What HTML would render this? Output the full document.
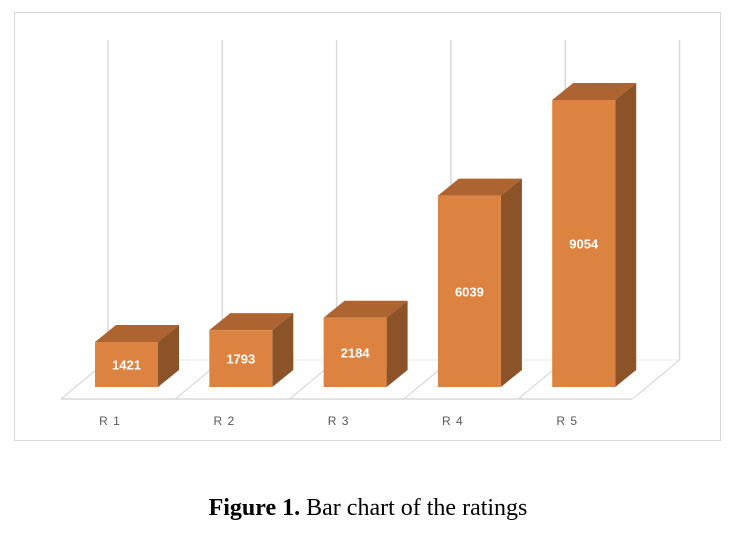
<!DOCTYPE html>
<html><head><meta charset="utf-8"><style>
body{margin:0;background:#fff;width:738px;height:534px;overflow:hidden}
</style></head><body>
<svg width="738" height="534" id="svg" font-family="Liberation Sans, sans-serif">
<rect x="14.5" y="12.5" width="706" height="428" fill="#fff" stroke="#d9d9d9"/>
<g id="g"></g>
<text x="368" y="515" text-anchor="middle" font-family="Liberation Serif, serif" font-size="24" fill="#000"><tspan font-weight="bold">Figure 1.</tspan> Bar chart of the ratings</text>
</svg>
<script>
const categories=["R1","R2","R3","R4","R5"];
const values=[1421,1793,2184,6039,9054];
const labels=["R 1","R 2","R 3","R 4","R 5"];
const NS="http://www.w3.org/2000/svg",g=document.getElementById('g');
function mk(t,a){const e=document.createElementNS(NS,t);for(const k in a)e.setAttribute(k,a[k]);g.appendChild(e);return e;}
const base=387, scale=287/9054, step=114.3, x0=95, bw=63, ddx=21, ddy=-17;
function y(v){return base-v*scale;}
for(let i=0;i<=5;i++){const gx=108+i*step;
 let l=mk('line',{x1:gx,y1:40,x2:gx,y2:360,stroke:'#d9d9d9','stroke-width':1.5});
 
 
 let d=mk('line',{x1:gx,y1:360,x2:gx-47,y2:399,stroke:'#d9d9d9','stroke-width':1.2});
 
 }
let f1=mk('line',{x1:61,y1:399,x2:632,y2:399,stroke:'#d9d9d9','stroke-width':1.5});


let f2=mk('line',{x1:108,y1:360,x2:679,y2:360,stroke:'#e6e6e6','stroke-width':1});


categories.forEach((c,i)=>{
 const x=x0+i*step, t=y(values[i]);
 let top=mk('polygon',{points:`${x},${t} ${x+ddx},${t+ddy} ${x+bw+ddx},${t+ddy} ${x+bw},${t}`,fill:'#AD6431'});
 
 
 let side=mk('polygon',{points:`${x+bw},${t} ${x+bw+ddx},${t+ddy} ${x+bw+ddx},${base+ddy} ${x+bw},${base}`,fill:'#8C5328'});
 
 
 let fr=mk('rect',{x:x,y:t,width:bw,height:base-t,fill:'#DC8342'});
 
 
 let tx=mk('text',{x:x+bw/2,y:(t+base)/2+5,'text-anchor':'middle','font-size':13,'font-weight':'bold',fill:'#fff'});
 tx.textContent=values[i];
 
 
 let lb=mk('text',{x:108+i*step+2,y:425,'text-anchor':'middle','font-size':12,fill:'#595959','letter-spacing':'1'});
 lb.textContent=labels[i];
 
 
});
</script>
</body></html>
